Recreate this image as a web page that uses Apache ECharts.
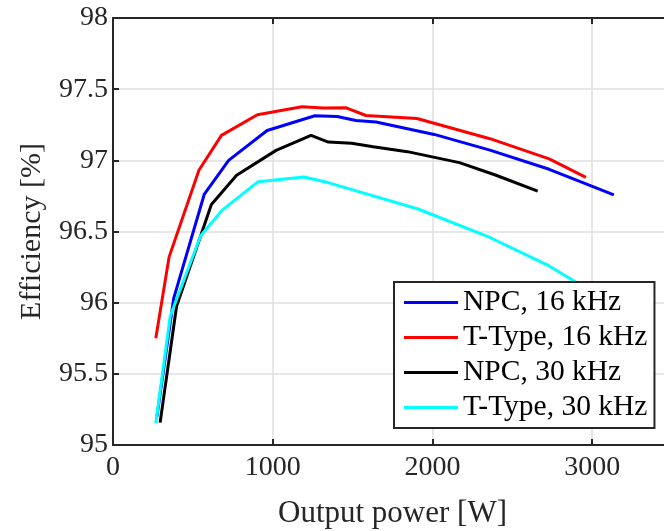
<!DOCTYPE html>
<html>
<head>
<meta charset="utf-8">
<script src="https://cdn.jsdelivr.net/npm/echarts@6/dist/echarts.min.js"></script>
<style>
html,body{margin:0;padding:0;background:#fff;}
#chart{width:664px;height:531px;}
</style>
</head>
<body>
<div id="chart"></div>
<script>
// Output power [W], efficiency [%]
const npc16 = [[275,95.2],[380,96.03],[571,96.76],[724,97.0],[965,97.21],[1264,97.313],[1404,97.308],[1521,97.28],[1647,97.269],[2011,97.182],[2360,97.072],[2731,96.937],[3136,96.757]];
const ttype16 = [[268,95.75],[351,96.32],[538,96.93],[679,97.175],[904,97.32],[1183,97.376],[1318,97.367],[1460,97.369],[1584,97.315],[1903,97.294],[2360,97.152],[2731,97.01],[2961,96.88]];
const npc30 = [[295,95.157],[398,95.975],[616,96.69],[774,96.895],[1021,97.07],[1240,97.175],[1348,97.128],[1494,97.12],[1629,97.096],[1843,97.061],[2169,96.984],[2394,96.897],[2659,96.783]];
const ttype30 = [[268,95.153],[358,95.905],[549,96.47],[684,96.65],[909,96.85],[1195,96.883],[1325,96.85],[1539,96.78],[1910,96.658],[2360,96.458],[2731,96.258],[2889,96.15],[3050,96.03]];
const seriesNames = ['NPC, 16 kHz','T-Type, 16 kHz','NPC, 30 kHz','T-Type, 30 kHz'];
const seriesColors = ['#0000ff','#ff0000','#000000','#00ffff'];
const xLabel = 'Output power [W]';
const yLabel = 'Efficiency [%]';

const FONT = 'Liberation Serif';
const AX = '#262626';
const chart = echarts.init(document.getElementById('chart'), null, {renderer:'canvas'});
const datasets = [npc16, ttype16, npc30, ttype30];
chart.setOption({
  animation:false,
  backgroundColor:'#fff',
  grid:{left:113, top:18, right:-8, bottom:86, containLabel:false, outerBoundsMode:'none'},
  legend:{
    orient:'vertical', left:394, top:282,
    data:seriesNames,
    icon:'rect', itemWidth:54, itemHeight:3, itemGap:0,
    padding:[3,7,3,10],
    backgroundColor:'#fff', borderColor:AX, borderWidth:2,
    textStyle:{fontFamily:FONT, fontSize:29.5, color:'#000', lineHeight:35},
    selectedMode:false
  },
  xAxis:[{
    type:'value', min:0, max:3500, interval:1000,
    name:xLabel, nameLocation:'middle', nameGap:53,
    nameTextStyle:{fontFamily:FONT, fontSize:31, color:AX},
    axisLine:{show:true, onZero:false, lineStyle:{color:AX, width:2}},
    axisTick:{show:true, inside:true, length:6, lineStyle:{color:AX, width:2}},
    axisLabel:{fontFamily:FONT, fontSize:28, color:AX, margin:9, showMaxLabel:false,
      formatter:(v)=>String(v)},
    splitLine:{show:true, lineStyle:{color:'#dfdfdf', width:1.5}}
  },{
    type:'value', min:0, max:3500, interval:1000, position:'top',
    axisLine:{show:true, onZero:false, lineStyle:{color:AX, width:2}},
    axisTick:{show:true, inside:true, length:6, lineStyle:{color:AX, width:2}},
    axisLabel:{show:false}, splitLine:{show:false}
  }],
  yAxis:{
    type:'value', min:95, max:98, interval:0.5,
    name:yLabel, nameLocation:'middle', nameGap:66,
    nameTextStyle:{fontFamily:FONT, fontSize:30, color:AX},
    axisLine:{show:true, onZero:false, lineStyle:{color:AX, width:2}},
    axisTick:{show:true, inside:true, length:6, lineStyle:{color:AX, width:2}},
    axisLabel:{fontFamily:FONT, fontSize:28, color:AX, margin:5},
    splitLine:{show:true, lineStyle:{color:'#dfdfdf', width:1.5}}
  },
  series: datasets.map((d,i)=>({
    name:seriesNames[i], type:'line', data:d, xAxisIndex:0,
    showSymbol:false, symbol:'none',
    lineStyle:{color:seriesColors[i], width:3},
    itemStyle:{color:seriesColors[i]}
  }))
});
</script>
</body>
</html>
